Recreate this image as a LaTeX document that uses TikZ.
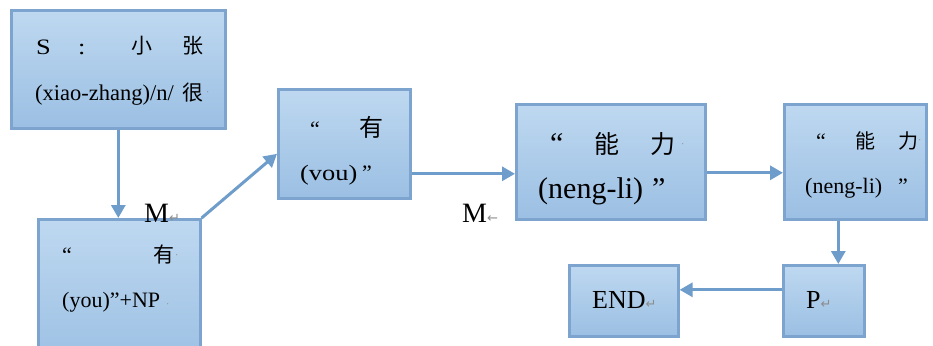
\documentclass[tikz,border=0pt]{standalone}
\usepackage{fontspec}
\setmainfont{Liberation Serif}
\newfontfamily\wideserif{Liberation Serif}[FakeStretch=1.2]
\newfontfamily\cjk{Noto Sans CJK SC}
\newfontfamily\symf{DejaVu Sans}
\usetikzlibrary{arrows.meta,shadows}
\definecolor{boxtop}{HTML}{BED8F0}
\definecolor{boxbot}{HTML}{9BBFE3}
\definecolor{boxline}{HTML}{7CA4CF}
\definecolor{arrowc}{HTML}{6E9CCB}
\definecolor{markc}{HTML}{8C8C8C}
\newcommand{\pmark}{{\symf\color{markc}\fontsize{13}{13}\selectfont ↵}}
\newcommand{\lmark}{{\symf\color{markc}\fontsize{13}{13}\selectfont ←}}
\newcommand{\tdot}{{\color{markc}\fontsize{10}{10}\selectfont ·}}
\begin{document}
\begin{tikzpicture}[x=1pt,y=-1pt,
  box/.style={draw=boxline, line width=2.6pt, top color=boxtop, bottom color=boxbot,
    inner sep=0pt, anchor=north west,
    drop shadow={shadow xshift=1.5pt, shadow yshift=-1.5pt, opacity=0.2}},
  conn/.style={draw=arrowc, line width=3pt, -{Triangle[length=13pt,width=14pt]}},
  txt/.style={inner sep=0pt, anchor=base west},
  f20/.style={font=\fontsize{20}{20}\selectfont},
  f21/.style={font=\fontsize{21}{21}\selectfont},
  f22/.style={font=\fontsize{22}{22}\selectfont},
  lab/.style={inner sep=0pt, anchor=base west, font=\fontsize{28}{28}\selectfont}]
\clip (0,0) rectangle (933,345);
\fill[white] (0,0) rectangle (933,345);

% boxes
\node[box, minimum width=214pt, minimum height=118pt] (b1) at (10,9) {};
\node[box, minimum width=162pt, minimum height=150pt] (b2) at (37,218) {};
\node[box, minimum width=132pt, minimum height=109pt] (b3) at (277,88) {};
\node[box, minimum width=189pt, minimum height=115pt] (b4) at (515,103) {};
\node[box, minimum width=142pt, minimum height=115pt] (b5) at (783,103) {};
\node[box, minimum width=81pt, minimum height=71pt] (p) at (782,264) {};
\node[box, minimum width=109pt, minimum height=71pt] (end) at (568,264) {};

% box 1 text
\node[txt,font=\fontsize{22}{22}\selectfont\wideserif] (t1a) at (36,55) {S};
\node[txt,font=\fontsize{22}{22}\selectfont\wideserif] (t1b) at (78,55) {:};
\node[txt,f21] (t1c) at (131,54) {\cjk 小};
\node[txt,f21] (t1d) at (182,54) {\cjk 张};
\node[txt,font=\fontsize{22.5}{22.5}\selectfont] (t1e) at (35,100) {(xiao-zhang)/n/};
\node[txt,f21] (t1f) at (182,100) {\cjk 很};
\node[txt] (t1g) at (206,95) {\tdot};

% box 2 text
\node[txt,f22] (t2a) at (62,262) {“};
\node[txt,f21] (t2b) at (153,262) {\cjk 有};
\node[txt] (t2c) at (175,258) {\tdot};
\node[txt,f22] (t2d) at (62,307) {(you)”+NP};
\node[txt] (t2e) at (166,307) {\tdot};

% box 3 text
\node[txt,f22] (t3a) at (310,136) {“};
\node[txt,font=\fontsize{24}{24}\selectfont] (t3b) at (359,136) {\cjk 有};
\node[txt,font=\fontsize{22}{22}\selectfont\wideserif] (t3c) at (300,180) {(vou)};
\node[txt,f22] (t3d) at (362,180) {”};

% box 4 text
\node[txt,font=\fontsize{30}{30}\selectfont] (t4a) at (550,153) {“};
\node[txt,font=\fontsize{25}{25}\selectfont] (t4b) at (594,153) {\cjk 能};
\node[txt,font=\fontsize{25}{25}\selectfont] (t4c) at (650,153) {\cjk 力};
\node[txt] (t4d) at (681,147) {\tdot};
\node[txt,font=\fontsize{30}{30}\selectfont] (t4e) at (538,198) {(neng-li)};
\node[txt,font=\fontsize{30}{30}\selectfont] (t4f) at (652,198) {”};

% box 5 text
\node[txt,f22] (t5a) at (816,148) {“};
\node[txt,f20] (t5b) at (855,148) {\cjk 能};
\node[txt,f20] (t5c) at (898,148) {\cjk 力};
\node[txt] (t5d) at (918,143) {\tdot};
\node[txt,f22] (t5e) at (805,193) {(neng-li)};
\node[txt,f22] (t5f) at (898,193) {”};

% P and END
\node[txt,font=\fontsize{26}{26}\selectfont] (tp) at (806,308) {P\pmark};
\node[txt,font=\fontsize{26}{26}\selectfont] (tend) at (592,308) {END\pmark};

% M labels
\node[lab] (m1) at (144,222) {M\pmark};
\node[lab] (m2) at (462,222) {M\lmark};

% connectors
\draw[conn] (b1.south) -- (b1.south |- b2.north);
\draw[conn] (b2.north east) -- ([yshift=-10pt]b3.west);
\draw[conn] ([yshift=-30pt]b3.east) -- ([yshift=-30pt]b3.east -| b4.west);
\draw[conn] ([yshift=-11pt]b4.east) -- ([yshift=-11pt]b5.west);
\draw[conn] ([xshift=-17pt]b5.south) -- ([xshift=-17pt]b5.south |- p.north);
\draw[conn] ([yshift=11pt]p.west) -- ([yshift=11pt]p.west -| end.east);
\end{tikzpicture}
\end{document}
